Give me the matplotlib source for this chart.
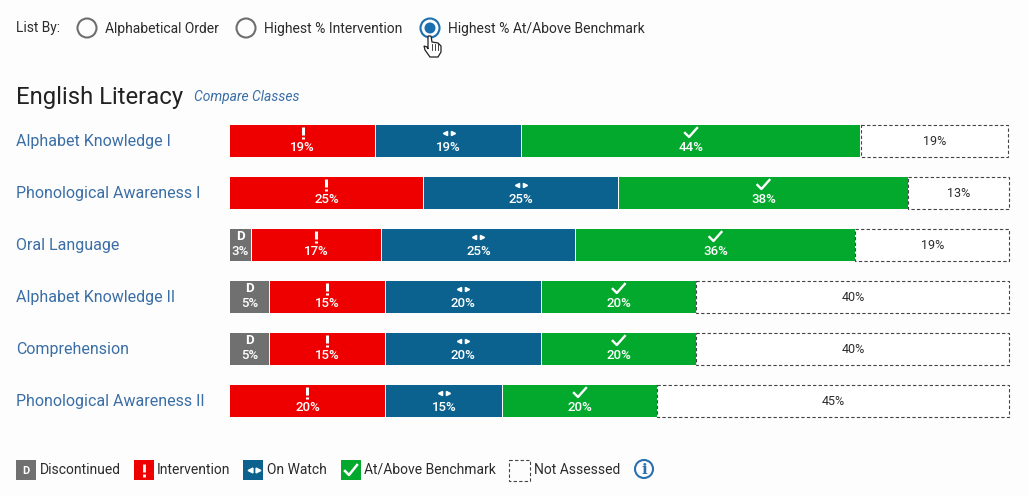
import matplotlib
matplotlib.use('Agg')
import matplotlib.pyplot as plt
from matplotlib.patches import Circle, Rectangle, Polygon

plt.rcParams['font.family'] = ['Roboto', 'DejaVu Sans']

skills = ['Alphabet Knowledge I', 'Phonological Awareness I', 'Oral Language',
          'Alphabet Knowledge II', 'Comprehension', 'Phonological Awareness II']
# segment widths, percent of the bar
discontinued = [0, 0, 2.7, 5.0, 5.0, 0]
intervention = [18.64, 24.8, 16.7, 14.9, 14.9, 19.92]
on_watch = [18.77, 25.06, 24.94, 20.05, 20.05, 15.04]
benchmark = [43.57, 37.28, 35.99, 19.92, 19.92, 19.92]
not_assessed = [19.02, 12.86, 19.67, 40.13, 40.13, 45.12]
# printed labels
discontinued_lab = ['', '', '3%', '5%', '5%', '']
intervention_lab = ['19%', '25%', '17%', '15%', '15%', '20%']
on_watch_lab = ['19%', '25%', '25%', '20%', '20%', '15%']
benchmark_lab = ['44%', '38%', '36%', '20%', '20%', '20%']
not_assessed_lab = ['19%', '13%', '19%', '40%', '40%', '45%']
list_by = ['Alphabetical Order', 'Highest % Intervention', 'Highest % At/Above Benchmark']
legend_names = ['Discontinued', 'Intervention', 'On Watch', 'At/Above Benchmark', 'Not Assessed']

RED = '#ee0000'
BLUE = '#0c628f'
GREEN = '#02a92c'
GREY = '#707070'
LINK = '#3a6ea5'
DARK = '#2b2b2b'
BG = '#fdfdfd'

W, H = 1029, 496
fig = plt.figure(figsize=(W / 100, H / 100), dpi=100, facecolor=BG)

# whole figure axes in pixels for the page furniture
ui = fig.add_axes([0, 0, 1, 1])
ui.set_xlim(0, W)
ui.set_ylim(H, 0)
ui.axis('off')

ui.text(16, 28, 'List By:', fontsize=9.9, color=DARK, va='center')
radio_x = [87, 246, 430]
for i, name in enumerate(list_by):
    on = i == 2
    ui.add_patch(Circle((radio_x[i], 28), 9.5, fc='none', ec='#1a6fb0' if on else '#6e6e6e', lw=1.5))
    if on:
        ui.add_patch(Circle((radio_x[i], 28), 5.5, fc='#1a6fb0', ec='none'))
    ui.text(radio_x[i] + 18, 29, name, fontsize=10, color=DARK, va='center')

# hand cursor
hand = [(428, 36), (431, 36), (432, 42), (438, 43), (441, 46), (441, 52), (438, 57),
        (430, 57), (425, 50), (424, 46), (427, 47), (428, 49)]
ui.add_patch(Polygon(hand, closed=True, fc='white', ec='#222222', lw=0.9, zorder=5))
for fx in [432, 435, 438]:
    ui.plot([fx, fx], [44, 50], color='#222222', lw=0.6, zorder=6)

ui.text(16, 97.5, 'English Literacy', fontsize=17.2, color='#222222', va='center')
ui.text(194, 97, 'Compare Classes', fontsize=10, color=LINK, style='italic', va='center')

for i, name in enumerate(skills):
    ui.text(16, 141.5 + 52 * i, name, fontsize=11.5, color=LINK, va='center')

# legend
legend_x = [16, 134, 243, 341, 508]
legend_c = [GREY, RED, BLUE, GREEN, None]
legend_tx = [40, 157, 267, 364, 534]
for i, name in enumerate(legend_names):
    x = legend_x[i]
    if legend_c[i]:
        ui.add_patch(Rectangle((x, 460), 20, 20, fc=legend_c[i], ec='none'))
    else:
        ui.add_patch(Rectangle((x + 0.5, 460), 21, 21, fc='none', ec='#444444', lw=0.8, ls=(0, (3, 2))))
    ui.text(legend_tx[i], 470, name, fontsize=10, color=DARK, va='center')
ui.text(26, 470.5, 'D', fontsize=8, color='white', weight='bold', ha='center', va='center')
ui.plot([144, 144], [464, 472], color='white', lw=2, solid_capstyle='butt')
ui.plot([144, 144], [474, 477], color='white', lw=2, solid_capstyle='butt')
ui.plot([250], [470], marker='<', ms=3.5, color='white', ls='none')
ui.plot([258], [470], marker='>', ms=3.5, color='white', ls='none')
ui.plot([345, 349, 357], [471, 475, 465], color='white', lw=1.8)
ui.add_patch(Circle((644, 469), 9, fc='none', ec='#2a6fb0', lw=1.5))
ui.text(644, 469.5, 'i', fontsize=11, color='#2a6fb0', weight='bold', family='DejaVu Serif', ha='center', va='center')

# stacked bars, rows are 52px apart
ax = fig.add_axes([230 / W, 1 - 427 / H, 778 / W, 312 / H])
ax.patch.set_alpha(0)
ax.set_xlim(0, 100)
ax.set_ylim(5.5, -0.5)
ax.axis('off')

PX_Y = 1 / 52
PX_X = 100 / 778
rows = range(len(skills))
left = [0] * len(skills)
for vals, labs, col, icon in [(discontinued, discontinued_lab, GREY, 'D'),
                              (intervention, intervention_lab, RED, '!'),
                              (on_watch, on_watch_lab, BLUE, '<>'),
                              (benchmark, benchmark_lab, GREEN, 'check')]:
    for r in rows:
        v = vals[r]
        if v == 0:
            continue
        # 1px at the start of a later segment stays open as the white divider
        gap = PX_X if left[r] > 0 else 0
        ax.barh(r, v - gap, left=left[r] + gap, height=32 / 52, color=col, linewidth=0)
        cx = left[r] + v / 2 + gap / 2
        ax.text(cx, r + 6.5 * PX_Y, labs[r], color='white', fontsize=9.5,
                weight='medium', ha='center', va='center')
        iy = r - 8 * PX_Y
        if icon == 'D':
            ax.text(cx, iy, 'D', color='white', fontsize=9.5, weight='bold', ha='center', va='center')
        elif icon == '!':
            ax.plot([cx, cx], [iy - 6 * PX_Y, iy + 2 * PX_Y], color='white', lw=2.2, solid_capstyle='butt')
            ax.plot([cx, cx], [iy + 3.5 * PX_Y, iy + 6 * PX_Y], color='white', lw=2.2, solid_capstyle='butt')
        elif icon == '<>':
            ax.plot([cx - 4 * PX_X], [iy], marker='<', ms=3, color='white', ls='none')
            ax.plot([cx + 4 * PX_X], [iy], marker='>', ms=3, color='white', ls='none')
        else:
            ax.plot([cx - 6 * PX_X, cx - 2 * PX_X, cx + 6 * PX_X],
                    [iy, iy + 4 * PX_Y, iy - 5 * PX_Y], color='white', lw=1.7)
        left[r] += v

for r in rows:
    ax.barh(r, not_assessed[r], left=left[r] + PX_X / 2, height=32 / 52, color='white',
            edgecolor='#444444', linewidth=0.8, linestyle=(0, (3, 2)), clip_on=False)
    ax.text(left[r] + not_assessed[r] / 2 + PX_X, r + 0.5 * PX_Y, not_assessed_lab[r], color=DARK,
            fontsize=9, ha='center', va='center')

fig.savefig('out.png', dpi=100, facecolor=BG)
